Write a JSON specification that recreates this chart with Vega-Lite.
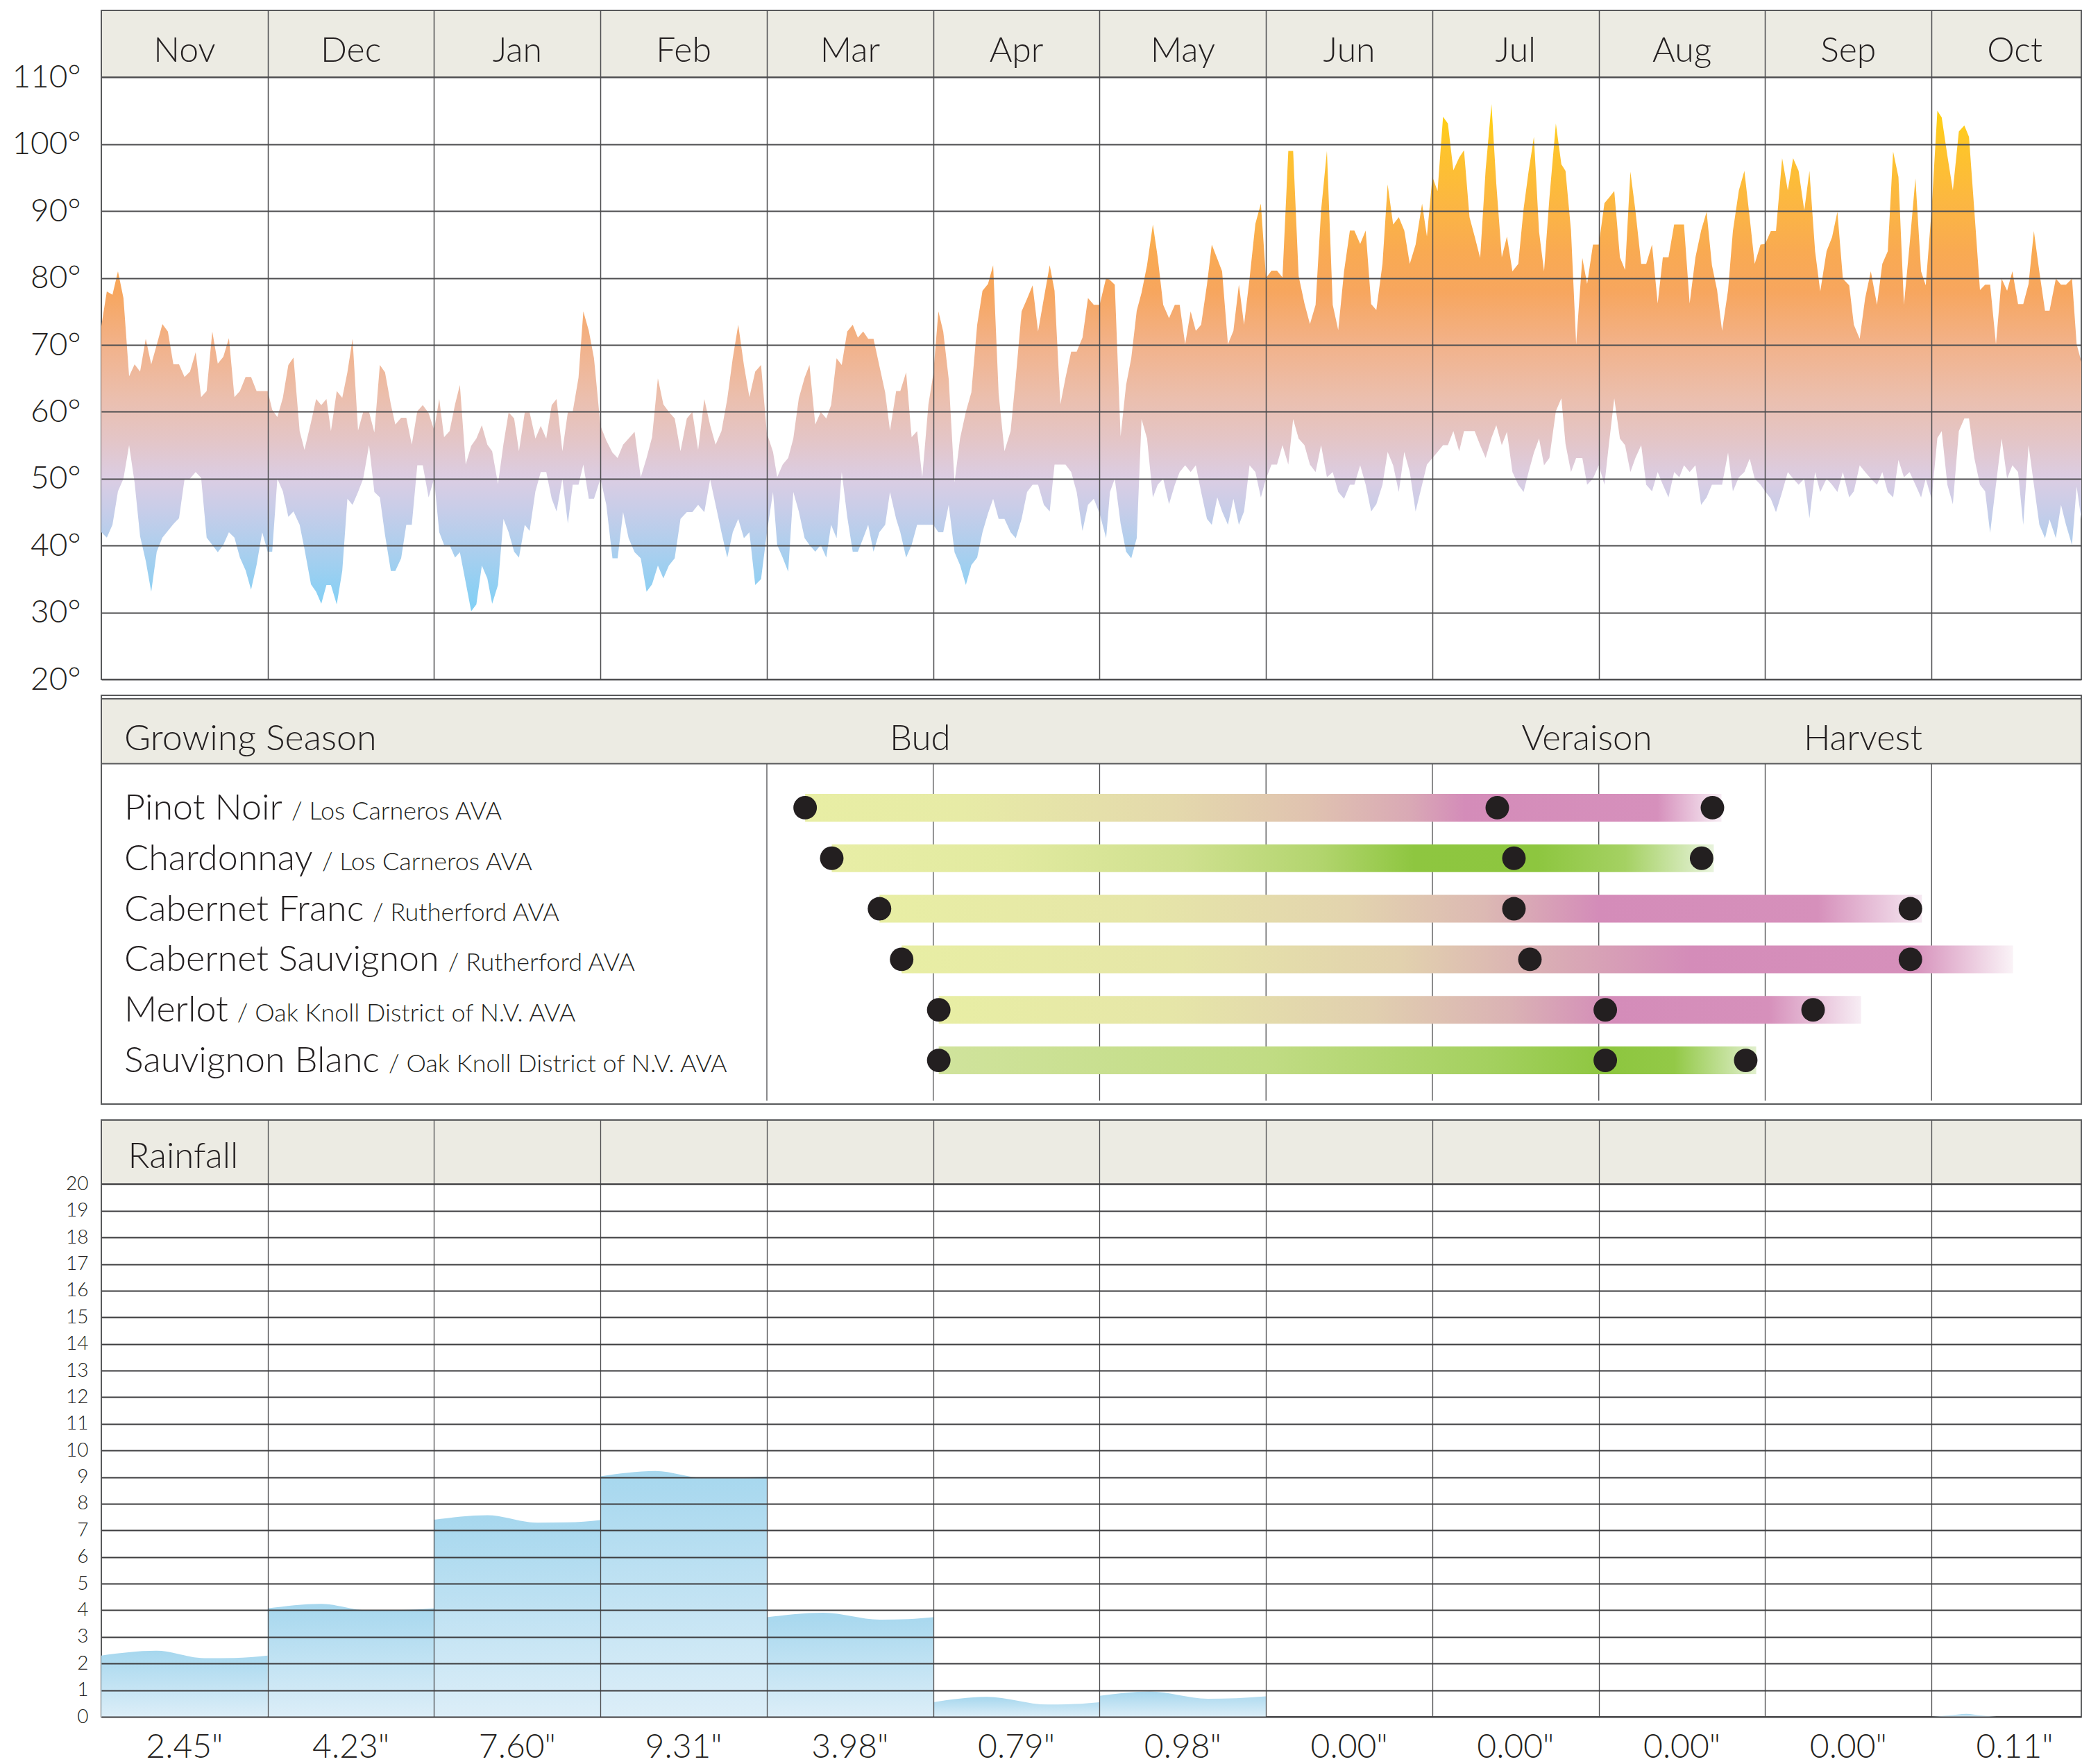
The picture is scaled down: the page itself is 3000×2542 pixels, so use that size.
{
"$schema":"https://vega.github.io/schema/vega-lite/v6.json",
"background":"white",
"padding":{"left":0,"top":13,"right":0,"bottom":0},
"bounds":"flush",
"spacing":23,
"config":{
 "view":{"stroke":"#58595b","strokeWidth":2},
 "text":{"font":"Lato","fontWeight":300,"color":"#231f20"},
 "axis":{"labelFont":"Lato","labelFontWeight":300,"labelColor":"#231f20","labelOverlap":false}
},
"datasets":{
"temp":[
{"t":0,"hi":72.8,"lo":42},{"t":0.033,"hi":78,"lo":41.2},{"t":0.067,"hi":77.5,"lo":43.1},{"t":0.1,"hi":81,"lo":48.1},{"t":0.133,"hi":77,"lo":50},{"t":0.167,"hi":65.3,"lo":55},{"t":0.2,"hi":67.1,"lo":49.4},{"t":0.233,"hi":66,"lo":41.4},{"t":0.267,"hi":70.9,"lo":37.7},{"t":0.3,"hi":67.1,"lo":33.1},{"t":0.333,"hi":70,"lo":39.1},{"t":0.367,"hi":73.1,"lo":41.2},{"t":0.4,"hi":72,"lo":42.2},{"t":0.433,"hi":67.1,"lo":43.2},{"t":0.467,"hi":67.1,"lo":44.1},{"t":0.5,"hi":65.2,"lo":49.9},{"t":0.533,"hi":66,"lo":50},{"t":0.567,"hi":68.9,"lo":51},{"t":0.6,"hi":62.2,"lo":50.1},{"t":0.633,"hi":63.1,"lo":41.2},{"t":0.667,"hi":72,"lo":40.1},{"t":0.7,"hi":67.2,"lo":39},{"t":0.733,"hi":68.2,"lo":40.1},{"t":0.767,"hi":71,"lo":42},{"t":0.8,"hi":62.2,"lo":41.2},{"t":0.833,"hi":63.1,"lo":38.2},{"t":0.867,"hi":65.2,"lo":36.3},{"t":0.9,"hi":65.2,"lo":33.4},{"t":0.933,"hi":63.1,"lo":37.1},{"t":0.967,"hi":63.1,"lo":42},
{"t":1,"hi":63.1,"lo":39.1},{"t":1.027,"hi":60.3,"lo":39.1},{"t":1.058,"hi":59.2,"lo":50},{"t":1.091,"hi":62.1,"lo":48.1},{"t":1.124,"hi":67,"lo":44.3},{"t":1.155,"hi":68.1,"lo":45.1},{"t":1.192,"hi":57.1,"lo":43.1},{"t":1.221,"hi":54.3,"lo":39.5},{"t":1.26,"hi":58.4,"lo":34.2},{"t":1.291,"hi":61.9,"lo":33.1},{"t":1.322,"hi":61,"lo":31.3},{"t":1.353,"hi":61.9,"lo":34.1},{"t":1.38,"hi":57.1,"lo":34.1},{"t":1.415,"hi":63.1,"lo":31.2},{"t":1.448,"hi":62.1,"lo":36.2},{"t":1.479,"hi":65.9,"lo":47},{"t":1.51,"hi":70.9,"lo":46.1},{"t":1.543,"hi":57.2,"lo":48},{"t":1.574,"hi":60,"lo":50},{"t":1.609,"hi":60,"lo":55},{"t":1.641,"hi":56.9,"lo":48},{"t":1.674,"hi":67,"lo":47.2},{"t":1.705,"hi":65.9,"lo":41.6},{"t":1.74,"hi":61.1,"lo":36.2},{"t":1.767,"hi":58.1,"lo":36.2},{"t":1.802,"hi":59.1,"lo":38.1},{"t":1.833,"hi":59.1,"lo":43.1},{"t":1.866,"hi":55.1,"lo":43.1},{"t":1.899,"hi":60.1,"lo":52},{"t":1.932,"hi":61,"lo":52},{"t":1.967,"hi":59.8,"lo":47.2},
{"t":2,"hi":57.3,"lo":50},{"t":2.031,"hi":61.9,"lo":42},{"t":2.06,"hi":56.2,"lo":40.1},{"t":2.093,"hi":57.1,"lo":40.1},{"t":2.126,"hi":61.1,"lo":38.2},{"t":2.155,"hi":64,"lo":39},{"t":2.19,"hi":52.1,"lo":34.5},{"t":2.223,"hi":54.9,"lo":30.2},{"t":2.254,"hi":56,"lo":31.2},{"t":2.287,"hi":58,"lo":37},{"t":2.32,"hi":55.1,"lo":35.1},{"t":2.349,"hi":54.1,"lo":31.3},{"t":2.384,"hi":49.2,"lo":34.1},{"t":2.417,"hi":55.2,"lo":44},{"t":2.448,"hi":59.9,"lo":42},{"t":2.481,"hi":59,"lo":39.1},{"t":2.51,"hi":54.1,"lo":38.2},{"t":2.545,"hi":59.9,"lo":43.1},{"t":2.574,"hi":59.9,"lo":42.2},{"t":2.609,"hi":56,"lo":48.1},{"t":2.641,"hi":57.9,"lo":51},{"t":2.674,"hi":56,"lo":51},{"t":2.707,"hi":61,"lo":47},{"t":2.736,"hi":61.9,"lo":45.1},{"t":2.771,"hi":54.1,"lo":50},{"t":2.804,"hi":60,"lo":43.3},{"t":2.833,"hi":60,"lo":49.1},{"t":2.868,"hi":65.1,"lo":49.1},{"t":2.897,"hi":75,"lo":52.1},{"t":2.93,"hi":72.1,"lo":47},{"t":2.961,"hi":68,"lo":47},
{"t":3,"hi":57.9,"lo":50},{"t":3.035,"hi":55.7,"lo":46.1},{"t":3.072,"hi":53.9,"lo":38.1},{"t":3.103,"hi":53.1,"lo":38.1},{"t":3.136,"hi":55.1,"lo":45},{"t":3.169,"hi":56,"lo":41.1},{"t":3.205,"hi":57,"lo":39},{"t":3.242,"hi":50.2,"lo":38.1},{"t":3.277,"hi":53.1,"lo":33.1},{"t":3.31,"hi":56.2,"lo":34.2},{"t":3.345,"hi":65,"lo":37},{"t":3.378,"hi":61.1,"lo":35.1},{"t":3.411,"hi":60,"lo":37},{"t":3.446,"hi":59,"lo":38.1},{"t":3.481,"hi":54.1,"lo":44},{"t":3.519,"hi":59,"lo":45},{"t":3.552,"hi":60,"lo":45},{"t":3.587,"hi":54.3,"lo":46.1},{"t":3.624,"hi":61.9,"lo":45},{"t":3.659,"hi":58,"lo":49.9},{"t":3.692,"hi":55.1,"lo":46.1},{"t":3.727,"hi":57.1,"lo":42},{"t":3.762,"hi":61.9,"lo":38.2},{"t":3.795,"hi":68,"lo":42},{"t":3.828,"hi":73,"lo":44},{"t":3.862,"hi":67,"lo":41.1},{"t":3.895,"hi":62.2,"lo":42},{"t":3.93,"hi":66,"lo":34.1},{"t":3.965,"hi":67,"lo":35},
{"t":4,"hi":56.8,"lo":41.9},{"t":4.037,"hi":54,"lo":48},{"t":4.062,"hi":50.2,"lo":40.1},{"t":4.095,"hi":52.1,"lo":38.2},{"t":4.128,"hi":53.1,"lo":36.1},{"t":4.159,"hi":56,"lo":48},{"t":4.192,"hi":62,"lo":45.1},{"t":4.227,"hi":65.1,"lo":41.1},{"t":4.256,"hi":67,"lo":40.1},{"t":4.291,"hi":58.1,"lo":39.1},{"t":4.324,"hi":60,"lo":40.1},{"t":4.357,"hi":59,"lo":38.2},{"t":4.386,"hi":61,"lo":43.1},{"t":4.419,"hi":68,"lo":41.1},{"t":4.45,"hi":67,"lo":51},{"t":4.483,"hi":72,"lo":44.3},{"t":4.516,"hi":73,"lo":39.1},{"t":4.547,"hi":71.1,"lo":39.1},{"t":4.579,"hi":72,"lo":41.1},{"t":4.609,"hi":70.9,"lo":43.1},{"t":4.641,"hi":70.9,"lo":39.1},{"t":4.676,"hi":66.9,"lo":42},{"t":4.711,"hi":62.9,"lo":43.1},{"t":4.74,"hi":57.2,"lo":48},{"t":4.777,"hi":63.1,"lo":44},{"t":4.802,"hi":63.1,"lo":42},{"t":4.837,"hi":65.9,"lo":38.2},{"t":4.87,"hi":56.2,"lo":40.1},{"t":4.903,"hi":57.1,"lo":43.1},{"t":4.934,"hi":50.2,"lo":43.1},{"t":4.971,"hi":61.1,"lo":43.1},
{"t":5,"hi":65.6,"lo":43.1},{"t":5.031,"hi":75,"lo":42},{"t":5.06,"hi":72,"lo":42},{"t":5.093,"hi":64.9,"lo":46.1},{"t":5.128,"hi":49.4,"lo":39},{"t":5.161,"hi":56,"lo":37.1},{"t":5.196,"hi":60,"lo":34.1},{"t":5.229,"hi":62.9,"lo":37.1},{"t":5.264,"hi":73,"lo":38.2},{"t":5.296,"hi":78.1,"lo":42},{"t":5.329,"hi":79.1,"lo":44.8},{"t":5.36,"hi":81.9,"lo":47},{"t":5.393,"hi":62.7,"lo":44},{"t":5.428,"hi":54.1,"lo":44},{"t":5.465,"hi":57.1,"lo":42},{"t":5.496,"hi":65.1,"lo":41.1},{"t":5.531,"hi":75,"lo":44},{"t":5.564,"hi":76.9,"lo":48},{"t":5.597,"hi":78.9,"lo":49.1},{"t":5.63,"hi":72,"lo":49.1},{"t":5.665,"hi":77,"lo":46.1},{"t":5.7,"hi":81.9,"lo":45.1},{"t":5.729,"hi":78.1,"lo":52.1},{"t":5.764,"hi":61.1,"lo":52.1},{"t":5.795,"hi":65.1,"lo":52.1},{"t":5.829,"hi":69,"lo":51},{"t":5.862,"hi":69,"lo":48},{"t":5.897,"hi":71.1,"lo":42.2},{"t":5.93,"hi":77,"lo":46.1},{"t":5.965,"hi":76,"lo":47},
{"t":6,"hi":76,"lo":44.8},{"t":6.039,"hi":80,"lo":41.1},{"t":6.062,"hi":79.7,"lo":48},{"t":6.091,"hi":79,"lo":50},{"t":6.126,"hi":56.3,"lo":43.3},{"t":6.159,"hi":64,"lo":39.1},{"t":6.19,"hi":68,"lo":38.1},{"t":6.223,"hi":75.1,"lo":41.1},{"t":6.252,"hi":77.8,"lo":58.9},{"t":6.285,"hi":81.9,"lo":56},{"t":6.32,"hi":88,"lo":47.2},{"t":6.349,"hi":83.1,"lo":49.1},{"t":6.382,"hi":76,"lo":50},{"t":6.417,"hi":74,"lo":46.2},{"t":6.452,"hi":76,"lo":49.1},{"t":6.481,"hi":76,"lo":51},{"t":6.514,"hi":70.1,"lo":52},{"t":6.547,"hi":75,"lo":51},{"t":6.578,"hi":72.1,"lo":52},{"t":6.61,"hi":73,"lo":48},{"t":6.645,"hi":79,"lo":44},{"t":6.674,"hi":85,"lo":43.1},{"t":6.707,"hi":82.9,"lo":47.2},{"t":6.736,"hi":81,"lo":45.1},{"t":6.771,"hi":70.1,"lo":43.1},{"t":6.804,"hi":72.1,"lo":47},{"t":6.837,"hi":79,"lo":43.1},{"t":6.868,"hi":73,"lo":45.1},{"t":6.901,"hi":79.9,"lo":52},{"t":6.936,"hi":88.1,"lo":51},{"t":6.969,"hi":91.1,"lo":47.2},
{"t":7,"hi":80,"lo":50},{"t":7.033,"hi":81.1,"lo":52.1},{"t":7.066,"hi":81.1,"lo":52.1},{"t":7.099,"hi":80.1,"lo":55},{"t":7.134,"hi":99,"lo":52.1},{"t":7.163,"hi":99,"lo":58.9},{"t":7.196,"hi":80.3,"lo":56},{"t":7.231,"hi":76.2,"lo":55},{"t":7.264,"hi":73.1,"lo":52.1},{"t":7.298,"hi":76,"lo":51},{"t":7.331,"hi":90.1,"lo":55},{"t":7.366,"hi":99,"lo":50.2},{"t":7.401,"hi":76,"lo":51},{"t":7.434,"hi":72.2,"lo":48},{"t":7.469,"hi":81,"lo":47},{"t":7.504,"hi":87.1,"lo":49.1},{"t":7.531,"hi":87.1,"lo":49.1},{"t":7.566,"hi":85.1,"lo":52},{"t":7.599,"hi":87.1,"lo":49.1},{"t":7.632,"hi":76.1,"lo":45.1},{"t":7.663,"hi":75.2,"lo":46.2},{"t":7.7,"hi":82.1,"lo":49.1},{"t":7.731,"hi":94,"lo":54},{"t":7.764,"hi":88,"lo":52},{"t":7.798,"hi":89.1,"lo":48},{"t":7.831,"hi":87.1,"lo":54},{"t":7.864,"hi":82.1,"lo":51},{"t":7.899,"hi":85,"lo":45.1},{"t":7.938,"hi":91.1,"lo":49.1},{"t":7.967,"hi":86.2,"lo":52.1},
{"t":8,"hi":95.1,"lo":53.1},{"t":8.031,"hi":93,"lo":54},{"t":8.064,"hi":104.1,"lo":55},{"t":8.093,"hi":103.1,"lo":55},{"t":8.126,"hi":96.1,"lo":57.1},{"t":8.161,"hi":98,"lo":54.1},{"t":8.19,"hi":99.1,"lo":57.1},{"t":8.223,"hi":89.1,"lo":57.1},{"t":8.254,"hi":86.2,"lo":57.1},{"t":8.287,"hi":83,"lo":55},{"t":8.32,"hi":96.2,"lo":53.1},{"t":8.355,"hi":106,"lo":56.1},{"t":8.384,"hi":94.1,"lo":58},{"t":8.417,"hi":83.1,"lo":55},{"t":8.448,"hi":86.2,"lo":57},{"t":8.481,"hi":81,"lo":51},{"t":8.516,"hi":82.1,"lo":49.1},{"t":8.548,"hi":90.3,"lo":48},{"t":8.578,"hi":95.9,"lo":51},{"t":8.61,"hi":101.1,"lo":53.9},{"t":8.641,"hi":86.9,"lo":56},{"t":8.671,"hi":81,"lo":52},{"t":8.703,"hi":91.9,"lo":53.1},{"t":8.742,"hi":103.1,"lo":60.1},{"t":8.775,"hi":97,"lo":62},{"t":8.8,"hi":96,"lo":55.2},{"t":8.833,"hi":87.1,"lo":51},{"t":8.864,"hi":70.1,"lo":53.1},{"t":8.901,"hi":83,"lo":53.1},{"t":8.93,"hi":79.1,"lo":49.1},{"t":8.965,"hi":85,"lo":50},
{"t":9,"hi":85,"lo":52},{"t":9.034,"hi":91.2,"lo":49.1},{"t":9.061,"hi":92,"lo":55.2},{"t":9.093,"hi":93,"lo":62},{"t":9.127,"hi":83.1,"lo":56},{"t":9.158,"hi":81.2,"lo":55},{"t":9.19,"hi":95.9,"lo":51},{"t":9.22,"hi":90.1,"lo":53.1},{"t":9.255,"hi":82.1,"lo":55},{"t":9.285,"hi":82.1,"lo":49.1},{"t":9.32,"hi":85,"lo":48.1},{"t":9.354,"hi":76.2,"lo":51},{"t":9.385,"hi":83.1,"lo":49.1},{"t":9.419,"hi":83.1,"lo":47.2},{"t":9.453,"hi":88,"lo":51},{"t":9.484,"hi":88,"lo":50.2},{"t":9.512,"hi":88,"lo":52},{"t":9.546,"hi":76.2,"lo":51},{"t":9.581,"hi":83.1,"lo":52},{"t":9.615,"hi":87.1,"lo":46.1},{"t":9.648,"hi":89.9,"lo":47.2},{"t":9.68,"hi":81.9,"lo":49.1},{"t":9.711,"hi":78.2,"lo":49.1},{"t":9.741,"hi":72.1,"lo":49.1},{"t":9.777,"hi":78.2,"lo":53.9},{"t":9.806,"hi":87,"lo":48.1},{"t":9.842,"hi":93.1,"lo":50.2},{"t":9.875,"hi":96,"lo":51},{"t":9.907,"hi":89,"lo":53},{"t":9.937,"hi":82.1,"lo":50},{"t":9.972,"hi":85,"lo":49.1},
{"t":10,"hi":85.1,"lo":48.1},{"t":10.034,"hi":87,"lo":47},{"t":10.065,"hi":87,"lo":45},{"t":10.102,"hi":97.9,"lo":48},{"t":10.136,"hi":93.1,"lo":51},{"t":10.168,"hi":97.9,"lo":50},{"t":10.201,"hi":96,"lo":49.1},{"t":10.235,"hi":90.1,"lo":50},{"t":10.266,"hi":96,"lo":44.1},{"t":10.3,"hi":84,"lo":51},{"t":10.331,"hi":78,"lo":48},{"t":10.369,"hi":84,"lo":50},{"t":10.402,"hi":86.1,"lo":49.1},{"t":10.434,"hi":89.9,"lo":48},{"t":10.467,"hi":79.9,"lo":51},{"t":10.505,"hi":78.9,"lo":47.2},{"t":10.533,"hi":73,"lo":48.1},{"t":10.568,"hi":70.9,"lo":52},{"t":10.601,"hi":77,"lo":51},{"t":10.635,"hi":81,"lo":50},{"t":10.672,"hi":76,"lo":49.1},{"t":10.704,"hi":82.1,"lo":51},{"t":10.737,"hi":84,"lo":48},{"t":10.769,"hi":98.9,"lo":47.2},{"t":10.801,"hi":95.1,"lo":52.8},{"t":10.834,"hi":76,"lo":50.2},{"t":10.868,"hi":85,"lo":51},{"t":10.903,"hi":94.9,"lo":49.1},{"t":10.937,"hi":81,"lo":47.2},{"t":10.965,"hi":78.9,"lo":50},
{"t":11,"hi":90.1,"lo":47},{"t":11.035,"hi":105,"lo":56.1},{"t":11.061,"hi":104,"lo":57.1},{"t":11.095,"hi":98.3,"lo":49.1},{"t":11.128,"hi":93.1,"lo":46.2},{"t":11.164,"hi":101.9,"lo":57.1},{"t":11.197,"hi":102.8,"lo":59},{"t":11.225,"hi":101.1,"lo":59},{"t":11.257,"hi":90.1,"lo":53.1},{"t":11.291,"hi":78.2,"lo":49.1},{"t":11.322,"hi":79,"lo":48.1},{"t":11.352,"hi":79,"lo":41.9},{"t":11.387,"hi":70.1,"lo":49.1},{"t":11.421,"hi":79.9,"lo":56},{"t":11.454,"hi":78.1,"lo":50},{"t":11.486,"hi":81,"lo":52},{"t":11.52,"hi":76.1,"lo":51},{"t":11.551,"hi":76.1,"lo":43.1},{"t":11.583,"hi":79.1,"lo":55},{"t":11.615,"hi":87,"lo":49.1},{"t":11.648,"hi":80.9,"lo":43.1},{"t":11.682,"hi":75.1,"lo":41.1},{"t":11.709,"hi":75.1,"lo":43.9},{"t":11.747,"hi":79.9,"lo":41.1},{"t":11.778,"hi":79,"lo":46.1},{"t":11.808,"hi":79,"lo":43.1},{"t":11.844,"hi":79.9,"lo":40.1},{"t":11.872,"hi":70.1,"lo":48.8},{"t":11.901,"hi":67.4,"lo":43.8}
],
"months":[
{"name":"Nov","mid":0.5},{"name":"Dec","mid":1.5},{"name":"Jan","mid":2.5},{"name":"Feb","mid":3.5},{"name":"Mar","mid":4.5},{"name":"Apr","mid":5.5},{"name":"May","mid":6.5},{"name":"Jun","mid":7.5},{"name":"Jul","mid":8.5},{"name":"Aug","mid":9.5},{"name":"Sep","mid":10.5},{"name":"Oct","mid":11.5}
],
"grow":[
{"row":1,"variety":"Pinot Noir","ava":"/ Los Carneros AVA","bud":4.23,"veraison":8.39,"harvest":9.683,"end":9.737},
{"row":2,"variety":"Chardonnay","ava":"/ Los Carneros AVA","bud":4.39,"veraison":8.49,"harvest":9.618,"end":9.691},
{"row":3,"variety":"Cabernet Franc","ava":"/ Rutherford AVA","bud":4.677,"veraison":8.49,"harvest":10.873,"end":10.942},
{"row":4,"variety":"Cabernet Sauvignon","ava":"/ Rutherford AVA","bud":4.81,"veraison":8.586,"harvest":10.873,"end":11.49},
{"row":5,"variety":"Merlot","ava":"/ Oak Knoll District of N.V. AVA","bud":5.033,"veraison":9.039,"harvest":10.288,"end":10.576},
{"row":6,"variety":"Sauvignon Blanc","ava":"/ Oak Knoll District of N.V. AVA","bud":5.033,"veraison":9.039,"harvest":9.883,"end":9.946}
],
"stages":[{"label":"Bud","t":4.921},{"label":"Veraison","t":8.928},{"label":"Harvest","t":10.588}],
"gridlines":[{"t":4},{"t":5},{"t":6},{"t":7},{"t":8},{"t":9},{"t":10},{"t":11}],
"rain":[
{"month":"Nov","t":0,"v":2.3},{"month":"Nov","t":0.33,"v":2.48},{"month":"Nov","t":0.62,"v":2.2},{"month":"Nov","t":0.8,"v":2.21},{"month":"Nov","t":1,"v":2.3},
{"month":"Dec","t":1,"v":4.07},{"month":"Dec","t":1.32,"v":4.24},{"month":"Dec","t":1.6,"v":4},{"month":"Dec","t":1.8,"v":4.01},{"month":"Dec","t":2,"v":4.07},
{"month":"Jan","t":2,"v":7.4},{"month":"Jan","t":2.32,"v":7.57},{"month":"Jan","t":2.62,"v":7.29},{"month":"Jan","t":2.8,"v":7.3},{"month":"Jan","t":3,"v":7.39},
{"month":"Feb","t":3,"v":9.03},{"month":"Feb","t":3.33,"v":9.23},{"month":"Feb","t":3.62,"v":8.97},{"month":"Feb","t":3.8,"v":8.98},{"month":"Feb","t":4,"v":9.02},
{"month":"Mar","t":4,"v":3.74},{"month":"Mar","t":4.34,"v":3.91},{"month":"Mar","t":4.68,"v":3.65},{"month":"Mar","t":4.85,"v":3.67},{"month":"Mar","t":5,"v":3.74},
{"month":"Apr","t":5,"v":0.55},{"month":"Apr","t":5.32,"v":0.75},{"month":"Apr","t":5.69,"v":0.46},{"month":"Apr","t":5.85,"v":0.48},{"month":"Apr","t":6,"v":0.55},
{"month":"May","t":6,"v":0.79},{"month":"May","t":6.3,"v":0.95},{"month":"May","t":6.65,"v":0.68},{"month":"May","t":6.82,"v":0.7},{"month":"May","t":7,"v":0.77},
{"month":"Oct","t":11,"v":0},{"month":"Oct","t":11.1,"v":0.05},{"month":"Oct","t":11.21,"v":0.11},{"month":"Oct","t":11.3,"v":0.05},{"month":"Oct","t":11.39,"v":0}
],
"raintotal":[
{"mid":0.5,"total":2.45,"label":"2.45\""},{"mid":1.5,"total":4.23,"label":"4.23\""},{"mid":2.5,"total":7.6,"label":"7.60\""},{"mid":3.5,"total":9.31,"label":"9.31\""},{"mid":4.5,"total":3.98,"label":"3.98\""},{"mid":5.5,"total":0.79,"label":"0.79\""},{"mid":6.5,"total":0.98,"label":"0.98\""},{"mid":7.5,"total":0,"label":"0.00\""},{"mid":8.5,"total":0,"label":"0.00\""},{"mid":9.5,"total":0,"label":"0.00\""},{"mid":10.5,"total":0,"label":"0.00\""},{"mid":11.5,"total":0.11,"label":"0.11\""}
]
},
"vconcat":[
{
 "width":2853,"height":964,
 "layer":[
  {"data":{"name":"temp"},
   "mark":{"type":"area","clip":true,"color":{"gradient":"linear","x1":0,"y1":0,"x2":0,"y2":1,"stops":[
     {"offset":0,"color":"#ffd40a"},{"offset":0.079,"color":"#fec52a"},{"offset":0.185,"color":"#fcb840"},{"offset":0.29,"color":"#f9aa52"},{"offset":0.369,"color":"#f7a65e"},{"offset":0.475,"color":"#f2b28a"},{"offset":0.58,"color":"#ebbfae"},{"offset":0.66,"color":"#e4c5c6"},{"offset":0.739,"color":"#dbcde3"},{"offset":0.805,"color":"#c6cde9"},{"offset":0.897,"color":"#a5cfef"},{"offset":1,"color":"#7ed0f6"}]}},
   "encoding":{
    "x":{"field":"t","type":"quantitative","scale":{"domain":[0,11.9],"nice":false,"zero":false},
         "axis":{"title":null,"values":[1,2,3,4,5,6,7,8,9,10,11],"grid":true,"gridColor":"#4d4d4f","gridWidth":1.5,"labels":false,"ticks":false,"domain":false,"zindex":1}},
    "y":{"field":"hi","type":"quantitative","scale":{"domain":[20,120],"nice":false,"zero":false},
         "axis":{"title":null,"values":[20,30,40,50,60,70,80,90,100,110],"labelExpr":"datum.value + '°'","grid":true,"gridColor":"#4d4d4f","gridWidth":2,"ticks":false,"domain":false,"labelFontSize":46,"labelPadding":30,"minExtent":145,"maxExtent":145,"zindex":1}},
    "y2":{"field":"lo"}
   }},
  {"data":{"values":[{}]},
   "mark":{"type":"rect","fill":"#ecebe3","stroke":"#58595b","strokeWidth":2},
   "encoding":{"x":{"datum":0},"x2":{"datum":11.9},"y":{"datum":110},"y2":{"datum":120}}},
  {"data":{"name":"months"},
   "mark":{"type":"text","fontSize":50,"align":"center","baseline":"alphabetic"},
   "encoding":{"x":{"field":"mid","type":"quantitative","title":null},"y":{"datum":112.3},"text":{"field":"name"}}}
 ]
},
{
 "width":2853,"height":589,
 "data":{"name":"grow"},
 "layer":[
  {"data":{"values":[{}]},
   "mark":{"type":"rect","fill":"#ecebe3","stroke":"#58595b","strokeWidth":2},
   "encoding":{"x":{"datum":0,"scale":{"domain":[0,11.9],"nice":false,"zero":false},"axis":null},"x2":{"datum":11.9},
               "y":{"datum":-1.154,"scale":{"domain":[-1.154,6.795],"reverse":true,"nice":false,"zero":false},"axis":null},"y2":{"datum":0.128}}},
  {"data":{"name":"gridlines"},
   "mark":{"type":"rule","color":"#4d4d4f","strokeWidth":1.3},
   "encoding":{"x":{"field":"t","type":"quantitative","axis":null},"y":{"datum":0.128,"axis":null},"y2":{"datum":6.795}}},
  {"data":{"values":[{}]},
   "mark":{"type":"text","fontSize":52,"align":"left","baseline":"alphabetic"},
   "encoding":{"x":{"datum":0.138,"axis":null},"y":{"datum":-0.142,"axis":null},"text":{"value":"Growing Season"}}},
  {"data":{"name":"stages"},
   "mark":{"type":"text","fontSize":51,"align":"center","baseline":"alphabetic"},
   "encoding":{"x":{"field":"t","type":"quantitative","axis":null},"y":{"datum":-0.142,"axis":null},"text":{"field":"label"}}},
  {"transform":[{"filter":"datum.row == 1"}],
   "layer":[
    {"mark":{"type":"bar","height":40,"color":{"gradient":"linear","x1":0,"y1":0,"x2":1,"y2":0,"stops":[{"offset":0,"color":"#e8eea4"},{"offset":0.17,"color":"#e7eba6"},{"offset":0.4,"color":"#e4d9ac"},{"offset":0.55,"color":"#e0c3b0"},{"offset":0.66,"color":"#d9a9b5"},{"offset":0.72,"color":"#d48cb9"},{"offset":0.93,"color":"#d690bc"},{"offset":1,"color":"#f7edf4"}]}},
     "encoding":{"x":{"field":"bud","type":"quantitative","axis":null},"x2":{"field":"end"},"y":{"field":"row","type":"quantitative","axis":null}}},
    {"mark":{"type":"text","fontSize":36,"align":"left","baseline":"alphabetic","dy":17},
     "encoding":{"x":{"datum":1.143,"axis":null},"y":{"field":"row","type":"quantitative","axis":null},"text":{"field":"ava"}}}
   ]},
  {"transform":[{"filter":"datum.row == 2"}],
   "layer":[
    {"mark":{"type":"bar","height":40,"color":{"gradient":"linear","x1":0,"y1":0,"x2":1,"y2":0,"stops":[{"offset":0,"color":"#e8eea6"},{"offset":0.2,"color":"#e2eaa0"},{"offset":0.4,"color":"#cfe08f"},{"offset":0.55,"color":"#b3d56f"},{"offset":0.66,"color":"#8ec640"},{"offset":0.8,"color":"#8dc63f"},{"offset":0.9,"color":"#a5d163"},{"offset":1,"color":"#e8f3dc"}]}},
     "encoding":{"x":{"field":"bud","type":"quantitative","axis":null},"x2":{"field":"end"},"y":{"field":"row","type":"quantitative","axis":null}}},
    {"mark":{"type":"text","fontSize":36,"align":"left","baseline":"alphabetic","dy":17},
     "encoding":{"x":{"datum":1.326,"axis":null},"y":{"field":"row","type":"quantitative","axis":null},"text":{"field":"ava"}}}
   ]},
  {"transform":[{"filter":"datum.row == 3"}],
   "layer":[
    {"mark":{"type":"bar","height":40,"color":{"gradient":"linear","x1":0,"y1":0,"x2":1,"y2":0,"stops":[{"offset":0,"color":"#e8eea4"},{"offset":0.25,"color":"#e6e6a8"},{"offset":0.45,"color":"#e3d4ae"},{"offset":0.58,"color":"#dcb9b3"},{"offset":0.69,"color":"#d48cb9"},{"offset":0.9,"color":"#d690bb"},{"offset":1,"color":"#f5e8f1"}]}},
     "encoding":{"x":{"field":"bud","type":"quantitative","axis":null},"x2":{"field":"end"},"y":{"field":"row","type":"quantitative","axis":null}}},
    {"mark":{"type":"text","fontSize":36,"align":"left","baseline":"alphabetic","dy":17},
     "encoding":{"x":{"datum":1.631,"axis":null},"y":{"field":"row","type":"quantitative","axis":null},"text":{"field":"ava"}}}
   ]},
  {"transform":[{"filter":"datum.row == 4"}],
   "layer":[
    {"mark":{"type":"bar","height":40,"color":{"gradient":"linear","x1":0,"y1":0,"x2":1,"y2":0,"stops":[{"offset":0,"color":"#e8eea4"},{"offset":0.25,"color":"#e6e6a8"},{"offset":0.45,"color":"#e2d1ae"},{"offset":0.57,"color":"#dab0b4"},{"offset":0.71,"color":"#d48cb9"},{"offset":0.91,"color":"#d690bb"},{"offset":1,"color":"#faf3f7"}]}},
     "encoding":{"x":{"field":"bud","type":"quantitative","axis":null},"x2":{"field":"end"},"y":{"field":"row","type":"quantitative","axis":null}}},
    {"mark":{"type":"text","fontSize":36,"align":"left","baseline":"alphabetic","dy":17},
     "encoding":{"x":{"datum":2.085,"axis":null},"y":{"field":"row","type":"quantitative","axis":null},"text":{"field":"ava"}}}
   ]},
  {"transform":[{"filter":"datum.row == 5"}],
   "layer":[
    {"mark":{"type":"bar","height":40,"color":{"gradient":"linear","x1":0,"y1":0,"x2":1,"y2":0,"stops":[{"offset":0,"color":"#e8eea4"},{"offset":0.25,"color":"#e6e6a8"},{"offset":0.47,"color":"#e1cfaf"},{"offset":0.62,"color":"#dab2b4"},{"offset":0.73,"color":"#d48cb9"},{"offset":0.9,"color":"#d690bb"},{"offset":1,"color":"#f7edf4"}]}},
     "encoding":{"x":{"field":"bud","type":"quantitative","axis":null},"x2":{"field":"end"},"y":{"field":"row","type":"quantitative","axis":null}}},
    {"mark":{"type":"text","fontSize":36,"align":"left","baseline":"alphabetic","dy":17},
     "encoding":{"x":{"datum":0.817,"axis":null},"y":{"field":"row","type":"quantitative","axis":null},"text":{"field":"ava"}}}
   ]},
  {"transform":[{"filter":"datum.row == 6"}],
   "layer":[
    {"mark":{"type":"bar","height":40,"color":{"gradient":"linear","x1":0,"y1":0,"x2":1,"y2":0,"stops":[{"offset":0,"color":"#d0e39c"},{"offset":0.4,"color":"#c1dc84"},{"offset":0.68,"color":"#a3d05e"},{"offset":0.82,"color":"#8dc63f"},{"offset":0.9,"color":"#93c947"},{"offset":1,"color":"#e0efcc"}]}},
     "encoding":{"x":{"field":"bud","type":"quantitative","axis":null},"x2":{"field":"end"},"y":{"field":"row","type":"quantitative","axis":null}}},
    {"mark":{"type":"text","fontSize":36,"align":"left","baseline":"alphabetic","dy":17},
     "encoding":{"x":{"datum":1.727,"axis":null},"y":{"field":"row","type":"quantitative","axis":null},"text":{"field":"ava"}}}
   ]},
  {"transform":[{"fold":["bud","veraison","harvest"],"as":["stage","when"]}],
   "mark":{"type":"circle","size":1150,"color":"#231f20","opacity":1},
   "encoding":{"x":{"field":"when","type":"quantitative","axis":null},"y":{"field":"row","type":"quantitative","axis":null}}},
  {"mark":{"type":"text","fontSize":52,"align":"left","baseline":"alphabetic","dy":17},
   "encoding":{"x":{"datum":0.138,"axis":null},"y":{"field":"row","type":"quantitative","axis":null},"text":{"field":"variety"}}}
 ]
},
{
 "width":2853,"height":860,
 "layer":[
  {"data":{"name":"rain"},
   "mark":{"type":"area","interpolate":"monotone","clip":true,"color":{"gradient":"linear","x1":0,"y1":0,"x2":0,"y2":1,"stops":[{"offset":0,"color":"#a6d7ee"},{"offset":1,"color":"#dceef8"}]}},
   "encoding":{
    "x":{"field":"t","type":"quantitative","scale":{"domain":[0,11.9],"nice":false,"zero":false},
         "axis":{"title":null,"values":[1,2,3,4,5,6,7,8,9,10,11],"grid":true,"gridColor":"#4d4d4f","gridWidth":1.3,"labels":false,"ticks":false,"domain":false,"zindex":1}},
    "y":{"field":"v","type":"quantitative","stack":null,"scale":{"domain":[0,22.41],"nice":false,"zero":true},
         "axis":{"title":null,"values":[0,1,2,3,4,5,6,7,8,9,10,11,12,13,14,15,16,17,18,19,20],"grid":true,"gridColor":"#3d3d3f","gridWidth":2,"ticks":false,"domain":false,"labelFontSize":28,"labelPadding":19,"zindex":1}},
    "detail":{"field":"month"}
   }},
  {"data":{"values":[{}]},
   "mark":{"type":"rect","fill":"#ecebe3","stroke":"#58595b","strokeWidth":2},
   "encoding":{"x":{"datum":0},"x2":{"datum":11.9},"y":{"datum":20},"y2":{"datum":22.41}}},
  {"data":{"values":[{}]},
   "mark":{"type":"text","fontSize":51,"align":"left","baseline":"alphabetic"},
   "encoding":{"x":{"datum":0.161},"y":{"datum":20.61},"text":{"value":"Rainfall"}}},
  {"data":{"name":"raintotal"},
   "mark":{"type":"text","fontSize":48,"align":"center","baseline":"alphabetic"},
   "encoding":{"x":{"field":"mid","type":"quantitative","title":null},"y":{"datum":-1.54},"text":{"field":"label"}}}
 ]
}
]
}
